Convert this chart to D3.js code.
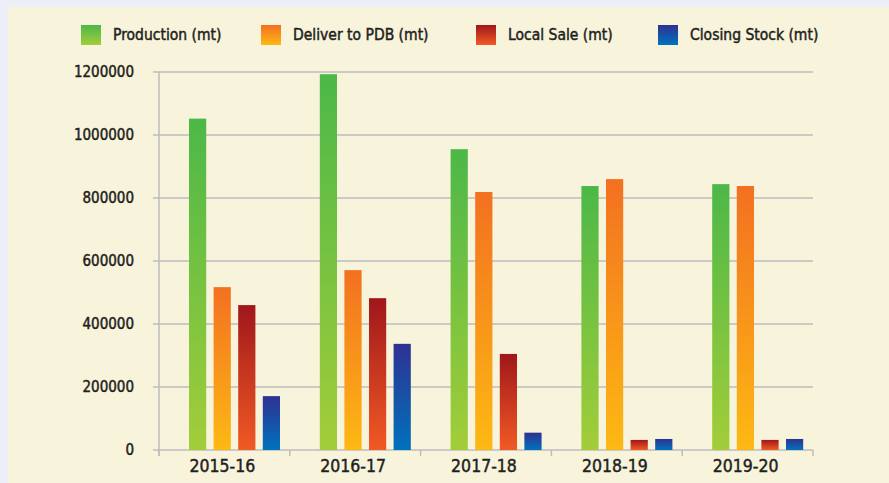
<!DOCTYPE html>
<html><head><meta charset="utf-8">
<script src="https://cdn.jsdelivr.net/npm/d3@7"></script>
<style>body{margin:0;background:#eeeef8;}svg{display:block;}</style>
</head><body>
<svg id="chart" width="889" height="483"></svg>
<script>
const categories = ["2015-16","2016-17","2017-18","2018-19","2019-20"];
const seriesNames = ["Production (mt)","Deliver to PDB (mt)","Local Sale (mt)","Closing Stock (mt)"];
const production = [1052000,1193000,955000,838000,844000];
const deliverPDB = [517000,571000,819000,860000,838000];
const localSale = [460000,482000,305000,32000,32000];
const closingStock = [171000,337000,55000,35000,35000];
const yTicks = [0,200000,400000,600000,800000,1000000,1200000];
const gradStops = [["#4cb848","#a3cd39"],["#f37021","#fdb913"],["#a0161b","#f15a24"],["#2e3192","#0072bc"]];

const allSeries = [production, deliverPDB, localSale, closingStock];
const svg = d3.select("#chart");
const font = "'DejaVu Sans Condensed','DejaVu Sans',sans-serif";
svg.append("rect").attr("x",8).attr("y",7).attr("width",881).attr("height",476).attr("fill","#f8f4dc");

const defs = svg.append("defs");
gradStops.forEach((g,i)=>{
  const lg = defs.append("linearGradient").attr("id","g"+i).attr("x1",0).attr("y1",0).attr("x2",0).attr("y2",1);
  lg.append("stop").attr("offset","0%").attr("stop-color",g[0]);
  lg.append("stop").attr("offset","100%").attr("stop-color",g[1]);
});

const pL=159, pR=813, pT=72, pB=450;
const x0 = d3.scaleBand().domain(categories).range([pL,pR]);
const x1 = d3.scaleBand().domain(d3.range(4)).range([30,121]).paddingInner(0.3);
const y = d3.scaleLinear().domain([0,1200000]).range([pB,pT]);

// grid
svg.append("g").selectAll("line").data(yTicks).join("line")
  .attr("x1",pL-6).attr("x2",pR).attr("y1",d=>y(d)).attr("y2",d=>y(d))
  .attr("stroke","#bdbdbd").attr("stroke-width",1.5);
svg.append("line").attr("x1",pL).attr("x2",pL).attr("y1",pT).attr("y2",pB+6).attr("stroke","#bdbdbd").attr("stroke-width",1.5);
// x ticks
const xt = categories.map(c=>x0(c)).concat([pR]);
svg.append("g").selectAll("line").data(xt).join("line")
  .attr("x1",d=>d).attr("x2",d=>d).attr("y1",pB).attr("y2",pB+6)
  .attr("stroke","#bdbdbd").attr("stroke-width",1.5);

function txt(sel){ return sel.attr("font-family",font).attr("fill","#231f20")
  .attr("stroke","#231f20").attr("stroke-width",0.45); }

// y labels
txt(svg.append("g").selectAll("text").data(yTicks).join("text")
  .attr("x",134).attr("y",d=>y(d)).attr("dy","0.35em").attr("text-anchor","end")
  .attr("font-size",15)).text(d=>d);
// x labels
txt(svg.append("g").selectAll("text").data(categories).join("text")
  .attr("x",d=>x0(d)+x0.bandwidth()/2-2).attr("y",466).attr("dy","0.36em").attr("text-anchor","middle")
  .attr("font-size",17.5)).text(d=>d);

// bars
categories.forEach((c,ci)=>{
  allSeries.forEach((s,si)=>{
    svg.append("rect").attr("x",x0(c)+x1(si)).attr("width",x1.bandwidth())
      .attr("y",y(s[ci])).attr("height",pB-y(s[ci])).attr("fill","url(#g"+si+")");
  });
});

// legend
const legX = [81,261,476,658];
seriesNames.forEach((n,i)=>{
  svg.append("rect").attr("x",legX[i]).attr("y",25).attr("width",20).attr("height",20).attr("fill","url(#g"+i+")");
  txt(svg.append("text").attr("x",legX[i]+32).attr("y",35).attr("dy","0.35em")
    .attr("font-size",15.5)).text(n);
});
</script>
</body></html>
